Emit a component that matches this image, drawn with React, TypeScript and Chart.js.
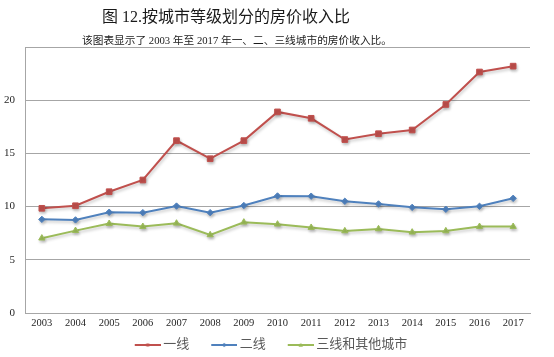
import React, { useEffect, useRef } from "react";
import { Chart, registerables } from "chart.js";

Chart.register(...registerables);

const years = ["2003","2004","2005","2006","2007","2008","2009","2010","2011","2012","2013","2014","2015","2016","2017"];
const tier1 = [9.84, 10.08, 11.4, 12.5, 16.2, 14.5, 16.2, 18.9, 18.3, 16.3, 16.85, 17.2, 19.6, 22.65, 23.2];
const tier2 = [8.8, 8.75, 9.47, 9.43, 10.05, 9.43, 10.1, 11.0, 10.98, 10.5, 10.25, 9.93, 9.75, 10.03, 10.78];
const tier3 = [7.03, 7.74, 8.4, 8.12, 8.43, 7.34, 8.53, 8.34, 8.03, 7.71, 7.9, 7.59, 7.71, 8.12, 8.12];
const seriesNames = ["一线", "二线", "三线和其他城市"];
const yTicks = [0, 5, 10, 15, 20];

const colors = ["#c0504d", "#4f81bd", "#9bbb59"];
const styles = ["rect", "rectRot", "triangle"];

function makeIcon(color: string, style: string) {
  const c = document.createElement("canvas");
  c.width = 30;
  c.height = 8;
  const ctx = c.getContext("2d")!;
  ctx.strokeStyle = color;
  ctx.fillStyle = color;
  ctx.lineWidth = 2;
  ctx.beginPath();
  ctx.moveTo(4, 4);
  ctx.lineTo(30, 4);
  ctx.stroke();
  ctx.beginPath();
  const cx = 17;
  if (style === "rect") {
    ctx.rect(cx - 1.5, 2.5, 3, 3);
  } else if (style === "rectRot") {
    ctx.moveTo(cx, 1.8);
    ctx.lineTo(cx + 2.2, 4);
    ctx.lineTo(cx, 6.2);
    ctx.lineTo(cx - 2.2, 4);
    ctx.closePath();
  } else {
    ctx.moveTo(cx, 1.8);
    ctx.lineTo(cx + 2.2, 5.8);
    ctx.lineTo(cx - 2.2, 5.8);
    ctx.closePath();
  }
  ctx.fill();
  return c;
}

const shadowPlugin = {
  id: "shadowPlugin",
  beforeDatasetsDraw(chart: any) {
    const ctx = chart.ctx;
    ctx.save();
    ctx.shadowColor = "rgba(0,0,0,0.22)";
    ctx.shadowBlur = 3;
    ctx.shadowOffsetX = 1;
    ctx.shadowOffsetY = 2;
  },
  afterDatasetsDraw(chart: any) {
    chart.ctx.restore();
  },
};

const legendPlace = {
  id: "legendPlace",
  afterLayout(chart: any) {
    const lg = chart.legend;
    if (!lg) return;
    const dy = 316.5 - lg.top;
    lg.top += dy;
    lg.bottom += dy;
    lg.left += 6;
    lg.right += 6;
  },
};

export default function App() {
  const ref = useRef<HTMLCanvasElement>(null);
  useEffect(() => {
    const icons = colors.map((c, i) => makeIcon(c, styles[i]));
    const data = [tier1, tier2, tier3];
    const chart = new Chart(ref.current!, {
      type: "line",
      data: {
        labels: years,
        datasets: data.map((d, i) => ({
          label: seriesNames[i],
          data: d,
          borderColor: colors[i],
          backgroundColor: colors[i],
          borderWidth: 2,
          pointStyle: styles[i] as any,
          pointRadius: i === 0 ? 4 : i === 1 ? 3.2 : 3.6,
          pointBorderWidth: 1,
          pointBorderColor: colors[i],
          pointBackgroundColor: colors[i],
          tension: 0,
          fill: false,
        })),
      },
      options: {
        animation: false,
        responsive: false,
        maintainAspectRatio: false,
        layout: { padding: { top: 47, right: 24, left: 0, bottom: -18 } },
        plugins: {
          title: { display: false },
          tooltip: { enabled: false },
          legend: {
            position: "bottom",
            labels: {
              usePointStyle: true,
              pointStyleWidth: 22,
              padding: 22,
              color: "#595959",
              font: { family: '"Liberation Serif", "Noto Sans CJK SC", serif', size: 13 },
              generateLabels: (ch: any) => {
                const items = (Chart.defaults.plugins.legend.labels as any).generateLabels(ch);
                items.forEach((it: any, i: number) => {
                  it.pointStyle = icons[i];
                });
                return items;
              },
            },
          },
        },
        scales: {
          x: {
            offset: true,
            grid: { display: false, drawTicks: false },
            border: { display: true, color: "#a6a6a6", width: 1 },
            ticks: {
              color: "#262626",
              padding: 4,
              maxRotation: 0,
              autoSkip: false,
              font: { family: '"Liberation Serif", serif', size: 10.5 },
            },
            afterFit: (s: any) => {
              s.height = 17;
            },
          },
          y: {
            min: 0,
            max: 25,
            grid: { color: "#a6a6a6", drawTicks: false, lineWidth: 1 },
            border: { display: true, color: "#a6a6a6", width: 1 },
            ticks: {
              stepSize: 5,
              color: "#262626",
              padding: 10,
              font: { family: '"Liberation Serif", serif', size: 11 },
              callback: (v: any) => (yTicks.includes(Number(v)) ? String(v) : ""),
            },
            afterFit: (s: any) => {
              s.width = 25;
            },
          },
        },
      },
      plugins: [shadowPlugin, legendPlace],
    });
    return () => chart.destroy();
  }, []);

  return (
    <div style={{ position: "fixed", left: 0, top: 0, width: 554, height: 357, background: "#fff" }}>
      <canvas ref={ref} width={554} height={357} style={{ position: "absolute", left: 0, top: 0 }} />
      <div
        style={{
          position: "absolute",
          left: 102,
          top: 7,
          fontSize: 16,
          lineHeight: "19px",
          color: "#1a1a1a",
          whiteSpace: "nowrap",
          fontFamily: '"Liberation Serif", "Noto Sans CJK SC", serif',
        }}
      >
        图 12.按城市等级划分的房价收入比
      </div>
      <div
        style={{
          position: "absolute",
          left: 82,
          top: 34,
          fontSize: 10.7,
          lineHeight: "12px",
          color: "#1a1a1a",
          whiteSpace: "nowrap",
          fontFamily: '"Liberation Serif", "Noto Sans CJK SC", serif',
        }}
      >
        该图表显示了 2003 年至 2017 年一、二、三线城市的房价收入比。
      </div>
    </div>
  );
}
